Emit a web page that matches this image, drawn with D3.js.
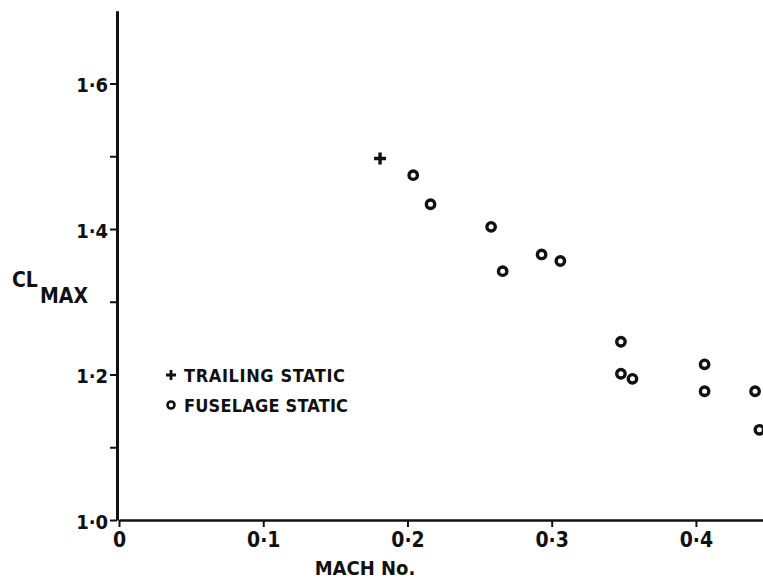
<!DOCTYPE html>
<html><head><meta charset="utf-8">
<script src="https://cdn.jsdelivr.net/npm/d3@7"></script>
<style>
html,body{margin:0;padding:0;background:#fff;}
text{font-family:"DejaVu Sans Condensed","DejaVu Sans",sans-serif;font-stretch:condensed;font-weight:bold;fill:#111;}
</style></head>
<body>
<script>
// Data
const trailingMach = [0.181];
const trailingCl   = [1.497];
const fuselageMach = [0.204, 0.216, 0.258, 0.266, 0.293, 0.306, 0.348, 0.348, 0.356, 0.406, 0.406, 0.441, 0.444];
const fuselageCl   = [1.474, 1.434, 1.403, 1.342, 1.365, 1.356, 1.245, 1.201, 1.194, 1.214, 1.177, 1.177, 1.124];
const xTickValues = [0, 0.1, 0.2, 0.3, 0.4];
const xTickLabels = ["0", "0·1", "0·2", "0·3", "0·4"];
const yTickValues = [1.0, 1.1, 1.2, 1.3, 1.4, 1.5, 1.6];
const yTickLabels = ["1·0", "", "1·2", "", "1·4", "", "1·6"];
const legendLabels = ["TRAILING STATIC", "FUSELAGE STATIC"];

const W = 763, H = 585;
const FONT = '"DejaVu Sans Condensed","DejaVu Sans",sans-serif';
const svg = d3.select("body").append("svg").attr("width", W).attr("height", H);

const x = d3.scaleLinear().domain([0, 0.4465]).range([119, 763]);
const y = d3.scaleLinear().domain([1.0, 1.7]).range([520, 10.75]);

// axes
const xAxis = d3.axisBottom(x).tickValues(xTickValues).tickFormat((d,i)=>xTickLabels[i]).tickSize(7).tickSizeOuter(0);
const gx = svg.append("g").attr("transform", `translate(0,${y(1.0)})`).call(xAxis);
gx.select(".domain").attr("stroke", "#111").attr("stroke-width", 2.6);
gx.selectAll(".tick line").attr("stroke", "#111").attr("stroke-width", 2);
gx.selectAll(".tick text").attr("font-size", 21).attr("y", 12).attr("dy", "0.72em").attr("fill", "#111")
  .style("font-family", FONT).style("font-stretch", "condensed").style("font-weight", "bold");

const yAxis = d3.axisLeft(y).tickValues(yTickValues).tickFormat((d,i)=>yTickLabels[i]).tickSize(7).tickSizeOuter(0);
const gy = svg.append("g").attr("transform", `translate(${x(0) - 2},0)`).call(yAxis);
gy.select(".domain").attr("stroke", "#111").attr("stroke-width", 3);
gy.selectAll(".tick line").attr("stroke", "#111").attr("stroke-width", 2);
gy.selectAll(".tick text").attr("font-size", 20).attr("x", -9).attr("dy", "0.4em").attr("fill", "#111")
  .style("font-family", FONT).style("font-stretch", "condensed").style("font-weight", "bold");

// axis titles
svg.append("text").attr("x", 365).attr("y", 575).attr("text-anchor", "middle").attr("font-size", 20).text("MACH No.");
const yl = svg.append("text").attr("font-size", 21);
yl.append("tspan").attr("x", 12).attr("y", 287).text("CL");
yl.append("tspan").attr("x", 40).attr("y", 303).attr("font-size", 21).text("MAX");

// markers
const plusPath = "M-6,0H6M0,-6V6";
svg.append("g").selectAll("path").data(trailingMach).join("path")
  .attr("d", plusPath).attr("transform", (d,i)=>`translate(${x(d)},${y(trailingCl[i])})`)
  .attr("stroke", "#111").attr("stroke-width", 3.4).attr("fill", "none");
svg.append("g").selectAll("circle").data(fuselageMach).join("circle")
  .attr("cx", d=>x(d)).attr("cy", (d,i)=>y(fuselageCl[i])).attr("r", 4.2)
  .attr("stroke", "#111").attr("stroke-width", 3.4).attr("fill", "none");

// legend
const lg = svg.append("g");
lg.append("path").attr("d", "M-5,0H5M0,-5V5").attr("transform", "translate(171,375)")
  .attr("stroke", "#111").attr("stroke-width", 2.8);
lg.append("circle").attr("cx", 171).attr("cy", 405).attr("r", 3.5).attr("fill", "none")
  .attr("stroke", "#111").attr("stroke-width", 2.6);
lg.append("text").attr("x", 184).attr("y", 382).attr("font-size", 18).attr("textLength", 161).text(legendLabels[0]);
lg.append("text").attr("x", 184).attr("y", 412).attr("font-size", 18).attr("textLength", 164).text(legendLabels[1]);
</script>
</body></html>
